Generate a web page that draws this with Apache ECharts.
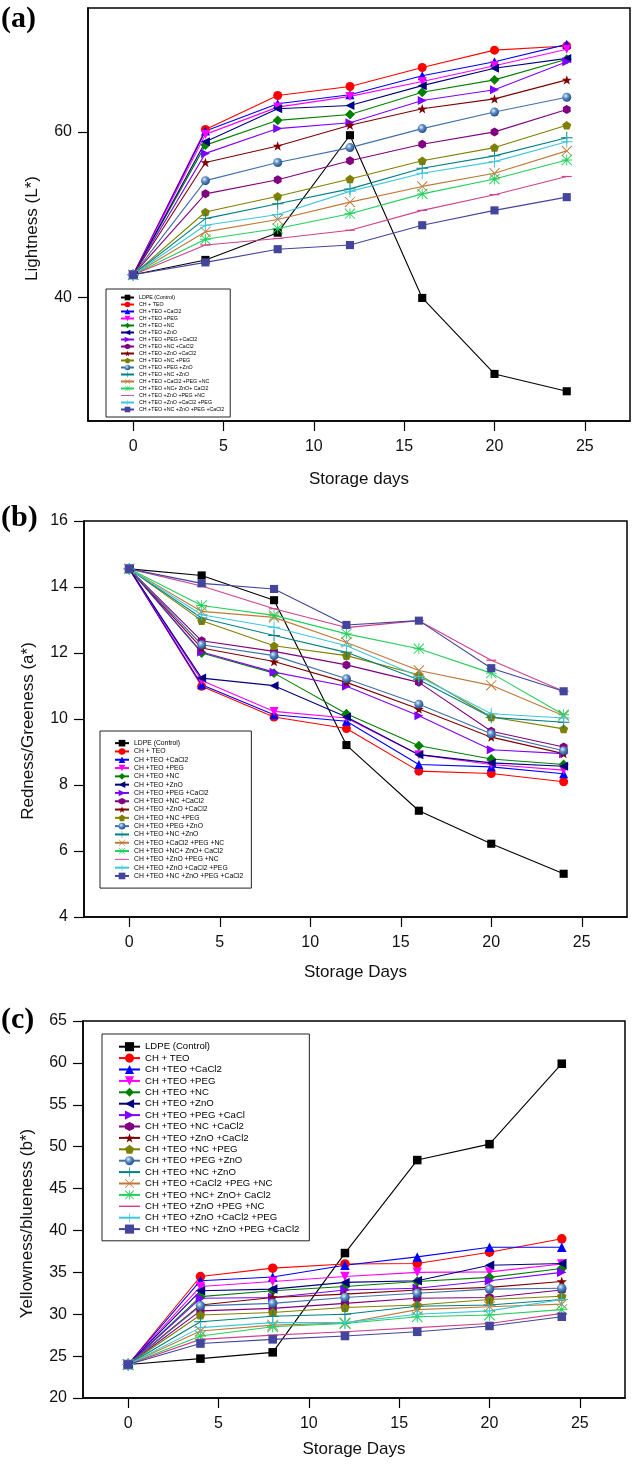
<!DOCTYPE html>
<html>
<head>
<meta charset="utf-8">
<script src="https://cdn.jsdelivr.net/npm/echarts@6/dist/echarts.min.js"></script>
<style>
  html, body { margin: 0; padding: 0; background: #fff; }
  #chart { width: 632px; height: 1471px; }
</style>
</head>
<body>
<div id="chart"></div>
<script>
// storage days
const days = [0, 4, 8, 12, 16, 20, 24]

// legend names (a, b)
const names = [
  'LDPE (Control)', 'CH + TEO', 'CH +TEO +CaCl2', 'CH +TEO +PEG', 'CH +TEO +NC', 'CH +TEO +ZnO',
  'CH +TEO +PEG +CaCl2', 'CH +TEO +NC +CaCl2', 'CH +TEO +ZnO +CaCl2', 'CH +TEO +NC +PEG',
  'CH +TEO +PEG +ZnO', 'CH +TEO +NC +ZnO', 'CH +TEO +CaCl2 +PEG +NC', 'CH +TEO +NC+ ZnO+ CaCl2',
  'CH +TEO +ZnO +PEG +NC', 'CH +TEO +ZnO +CaCl2 +PEG', 'CH +TEO +NC +ZnO +PEG +CaCl2'
]
// legend names (c)
const namesC = [
  'LDPE (Control)', 'CH + TEO', 'CH +TEO +CaCl2', 'CH +TEO +PEG', 'CH +TEO +NC', 'CH +TEO +ZnO',
  'CH +TEO +PEG +CaCl', 'CH +TEO +NC +CaCl2', 'CH +TEO +ZnO +CaCl2', 'CH +TEO +NC +PEG',
  'CH +TEO +PEG +ZnO', 'CH +TEO +NC +ZnO', 'CH +TEO +CaCl2 +PEG +NC', 'CH +TEO +NC+ ZnO+ CaCl2',
  'CH +TEO +ZnO +PEG +NC', 'CH +TEO +ZnO +CaCl2 +PEG', 'CH +TEO +NC +ZnO +PEG +CaCl2'
]

// (a) Lightness (L*)
const lightness = [
  [42.7, 44.5, 47.8, 59.6, 39.9, 30.7, 28.6],
  [42.7, 60.3, 64.4, 65.5, 67.8, 69.9, 70.4],
  [42.7, 60.1, 63.4, 64.5, 66.8, 68.5, 70.6],
  [42.7, 59.7, 63.0, 64.3, 66.1, 68.0, 70.0],
  [42.7, 58.4, 61.4, 62.1, 64.8, 66.3, 68.8],
  [42.7, 58.8, 62.8, 63.2, 65.6, 67.7, 68.9],
  [42.7, 57.4, 60.4, 61.1, 63.8, 65.1, 68.5],
  [42.7, 52.5, 54.2, 56.5, 58.5, 60.0, 62.7],
  [42.7, 56.3, 58.3, 60.8, 62.8, 64.0, 66.3],
  [42.7, 50.3, 52.2, 54.3, 56.5, 58.1, 60.8],
  [42.7, 54.1, 56.3, 58.1, 60.4, 62.4, 64.2],
  [42.7, 49.5, 51.3, 53.1, 55.6, 57.1, 59.3],
  [42.7, 47.9, 49.4, 51.5, 53.4, 55.0, 57.7],
  [42.7, 47.0, 48.3, 50.1, 52.5, 54.3, 56.6],
  [42.7, 46.3, 47.1, 48.1, 50.5, 52.4, 54.6],
  [42.7, 48.7, 50.0, 52.8, 55.0, 56.4, 58.8],
  [42.7, 44.2, 45.8, 46.3, 48.7, 50.5, 52.1]
]

// (b) Redness/Greeness (a*)
const redness = [
  [14.55, 14.35, 13.6, 9.21, 7.22, 6.22, 5.31],
  [14.55, 10.99, 10.06, 9.71, 8.42, 8.35, 8.1],
  [14.55, 11.04, 10.13, 9.93, 8.62, 8.55, 8.34],
  [14.55, 11.17, 10.23, 10.03, 8.92, 8.62, 8.45],
  [14.55, 12.0, 11.39, 10.16, 9.19, 8.79, 8.62],
  [14.55, 11.24, 11.01, 10.06, 8.92, 8.67, 8.57],
  [14.55, 12.03, 11.42, 10.99, 10.1, 9.07, 8.95],
  [14.55, 12.37, 12.05, 11.64, 11.11, 9.63, 9.15],
  [14.55, 12.15, 11.74, 11.11, 10.3, 9.45, 8.95],
  [14.55, 12.98, 12.22, 11.92, 11.34, 10.06, 9.7],
  [14.55, 12.25, 11.92, 11.22, 10.45, 9.55, 9.04],
  [14.55, 13.06, 12.53, 12.02, 11.19, 10.05, 9.9],
  [14.55, 13.26, 13.08, 12.32, 11.47, 11.02, 10.1],
  [14.55, 13.44, 13.14, 12.58, 12.13, 11.39, 10.13],
  [14.55, 14.03, 13.34, 12.77, 12.98, 11.78, 10.84],
  [14.55, 13.16, 12.78, 12.22, 11.29, 10.16, 10.03],
  [14.55, 14.11, 13.94, 12.85, 12.98, 11.54, 10.84]
]

// (c) Yellowness/blueness (b*)
const yellowness = [
  [24.0, 24.7, 25.45, 37.3, 48.4, 50.3, 59.9],
  [24.0, 34.5, 35.5, 36.0, 36.05, 37.4, 39.0],
  [24.0, 34.0, 34.45, 35.85, 36.84, 38.0, 38.0],
  [24.0, 33.3, 33.9, 34.5, 35.0, 35.05, 36.0],
  [24.0, 32.1, 32.8, 33.3, 33.9, 34.4, 35.45],
  [24.0, 32.8, 33.0, 33.8, 34.0, 35.85, 36.05],
  [24.0, 31.9, 32.0, 32.9, 33.1, 34.0, 35.0],
  [24.0, 30.4, 30.7, 31.3, 31.9, 32.0, 32.9],
  [24.0, 31.1, 32.0, 32.4, 32.9, 33.2, 33.9],
  [24.0, 29.9, 30.2, 30.8, 31.1, 31.75, 32.15],
  [24.0, 31.0, 31.3, 32.0, 32.5, 33.0, 33.1],
  [24.0, 29.1, 29.75, 30.0, 30.95, 31.1, 31.75],
  [24.0, 28.0, 28.7, 28.96, 30.55, 30.9, 31.2],
  [24.0, 27.4, 28.5, 28.9, 29.7, 29.9, 30.55],
  [24.0, 27.0, 27.5, 27.9, 28.4, 28.9, 30.1],
  [24.0, 28.4, 29.0, 29.0, 30.0, 30.4, 31.75],
  [24.0, 26.5, 27.0, 27.4, 27.9, 28.6, 29.7]
]

// tick labels
const xTicks = [0, 5, 10, 15, 20, 25]
const yTicksA = [40, 60]
const yTicksB = [4, 6, 8, 10, 12, 14, 16]
const yTicksC = [20, 25, 30, 35, 40, 45, 50, 55, 60, 65]

// marker shapes
const hexagon = 'path://M50,0 L93.3,25 L93.3,75 L50,100 L6.7,75 L6.7,25 Z'
const star = 'path://M50,0 L61.8,33.8 L97.6,34.5 L69,56.2 L79.4,90.5 L50,70 L20.6,90.5 L31,56.2 L2.4,34.5 L38.2,33.8 Z'
const pentagon = 'path://M50,0 L97.6,34.5 L79.4,90.5 L20.6,90.5 L2.4,34.5 Z'
const plus = 'path://M46,0 H54 V46 H100 V54 H54 V100 H46 V54 H0 V46 H46 Z'
const cross = 'path://M0,6 L6,0 L50,44 L94,0 L100,6 L56,50 L100,94 L94,100 L50,56 L6,100 L0,94 L44,50 Z'
const asterisk = 'path://M46,0 H54 V46 H100 V54 H54 V100 H46 V54 H0 V46 H46 Z M0,6 L6,0 L50,44 L94,0 L100,6 L56,50 L100,94 L94,100 L50,56 L6,100 L0,94 L44,50 Z'
const dash = 'path://M0,44 H100 V56 H0 Z'
const legendLine = 'path://M0,0 H100 V7 H0 Z'
const sphere = {
  type: 'radial', x: 0.38, y: 0.35, r: 0.65,
  colorStops: [{ offset: 0, color: '#e8f0fa' }, { offset: 0.45, color: '#5b8cc6' }, { offset: 1, color: '#244f86' }]
}

// style for each series (same order as names)
const styles = [
  { color: '#000000', symbol: 'rect', scale: 0.9 },
  { color: '#ff0000', symbol: 'circle' },
  { color: '#0000ff', symbol: 'triangle' },
  { color: '#ff00ff', symbol: 'triangle', rotate: 180 },
  { color: '#008000', symbol: 'diamond', scale: 1.1 },
  { color: '#000080', symbol: 'triangle', rotate: 90 },
  { color: '#8000ff', symbol: 'triangle', rotate: -90 },
  { color: '#800080', symbol: hexagon },
  { color: '#800000', symbol: star, scale: 1.1 },
  { color: '#808000', symbol: pentagon },
  { color: '#3f70aa', symbol: 'circle', fill: sphere },
  { color: '#008080', symbol: plus, scale: 1.3 },
  { color: '#c07838', symbol: cross, scale: 1.2 },
  { color: '#22d05a', symbol: asterisk, scale: 1.2 },
  { color: '#d0408e', symbol: dash, scale: 1.1, legendIcon: legendLine },
  { color: '#3cc8dc', symbol: plus, scale: 1.3 },
  { color: '#43449c', symbol: 'rect', scale: 0.9 }
]

const font = 'Liberation Sans, Arial, sans-serif'

// series for one panel
function makeSeries(panel, idx, rows, labels, size) {
  return rows.map((vals, i) => {
    const st = styles[i]
    return {
      name: panel + '#' + labels[i],
      type: 'line',
      xAxisIndex: idx,
      yAxisIndex: idx,
      data: days.map((d, j) => [d, vals[j]]),
      symbol: st.symbol,
      symbolSize: size * (st.scale || 1),
      symbolRotate: st.rotate || 0,
      symbolKeepAspect: true,
      itemStyle: { color: st.fill || st.color, opacity: 1 },
      lineStyle: { color: st.color, width: 1.1 },
      emphasis: { disabled: true },
      animation: false
    }
  })
}

// legend for one panel
function makeLegend(panel, labels, opt) {
  return Object.assign({
    orient: 'vertical',
    data: labels.map((n, i) => styles[i].legendIcon
      ? { name: panel + '#' + n, icon: styles[i].legendIcon }
      : panel + '#' + n),
    formatter: n => n.slice(2),
    itemGap: 0,
    borderColor: '#222',
    borderWidth: 1,
    backgroundColor: '#fff',
    selectedMode: false
  }, opt)
}

// x axis for one panel
function makeX(idx, name, gap) {
  return {
    gridIndex: idx,
    type: 'value',
    min: -2.5,
    max: 27.5,
    name,
    nameLocation: 'middle',
    nameGap: gap,
    nameTextStyle: { fontFamily: font, fontSize: 17, color: '#111' },
    axisLine: { show: true, onZero: false, lineStyle: { color: '#000', width: 1.5 } },
    axisTick: { show: true, customValues: xTicks, length: 10, lineStyle: { color: '#000', width: 1.2 } },
    axisLabel: { customValues: xTicks, margin: 18, fontFamily: font, fontSize: 16, color: '#111' },
    splitLine: { show: false }
  }
}

// y axis for one panel
function makeY(idx, name, min, max, ticks, pad) {
  return {
    gridIndex: idx,
    type: 'value',
    min,
    max,
    name,
    nameLocation: 'middle',
    nameGap: 47,
    nameTextStyle: { fontFamily: font, fontSize: 17, color: '#111', padding: pad },
    axisLine: { show: true, onZero: false, lineStyle: { color: '#000', width: 1.5 } },
    axisTick: { show: true, customValues: ticks, length: 10, lineStyle: { color: '#000', width: 1.2 } },
    axisLabel: { customValues: ticks, margin: 16, fontFamily: font, fontSize: 16, color: '#111' },
    splitLine: { show: false }
  }
}

const gridBox = { show: true, borderColor: '#000', borderWidth: 1.5, containLabel: false }
const panelTitle = { fontFamily: 'Liberation Serif, Times New Roman, serif', fontWeight: 'bold', fontSize: 30, color: '#000' }

const chart = echarts.init(document.getElementById('chart'), null, { renderer: 'canvas' })
chart.setOption({
  animation: false,
  backgroundColor: '#fff',
  title: [
    { text: '(a)', left: 1, top: 4, padding: 0, textStyle: panelTitle },
    { text: '(b)', left: 1, top: 503, padding: 0, textStyle: panelTitle },
    { text: '(c)', left: 1, top: 1005, padding: 0, textStyle: panelTitle }
  ],
  grid: [
    Object.assign({ left: 88, top: 8, right: 2, height: 413 }, gridBox),
    Object.assign({ left: 84, top: 521, right: 5, height: 396 }, gridBox),
    Object.assign({ left: 83, top: 1021, right: 7, height: 377 }, gridBox)
  ],
  xAxis: [
    makeX(0, 'Storage days', 50),
    makeX(1, 'Storage Days', 47),
    makeX(2, 'Storage Days', 43)
  ],
  yAxis: [
    makeY(0, 'Lightness (L*)', 25, 75, yTicksA, [0, 28, 0, 0]),
    makeY(1, 'Redness/Greeness (a*)', 4, 16, yTicksB, [0, 24, 0, 0]),
    makeY(2, 'Yellowness/blueness (b*)', 20, 65, yTicksC, [0, 28, 0, 0])
  ],
  legend: [
    makeLegend('a', names, {
      left: 106, top: 289, padding: [5, 6, 4, 14], itemWidth: 13, itemHeight: 7,
      textStyle: { fontFamily: font, fontSize: 5.3, lineHeight: 7, color: '#000' }
    }),
    makeLegend('b', names, {
      left: 100, top: 731, padding: [8, 8, 8, 14], itemWidth: 14, itemHeight: 8.3,
      textStyle: { fontFamily: font, fontSize: 6.8, lineHeight: 8.3, color: '#000' }
    }),
    makeLegend('c', namesC, {
      left: 102, top: 1034, padding: [7, 10, 6, 16], itemWidth: 21, itemHeight: 11.4,
      textStyle: { fontFamily: font, fontSize: 9.6, lineHeight: 11.4, color: '#000' }
    })
  ],
  series: [].concat(
    makeSeries('a', 0, lightness, names, 9),
    makeSeries('b', 1, redness, names, 9),
    makeSeries('c', 2, yellowness, namesC, 9.5)
  )
})
</script>
</body>
</html>
